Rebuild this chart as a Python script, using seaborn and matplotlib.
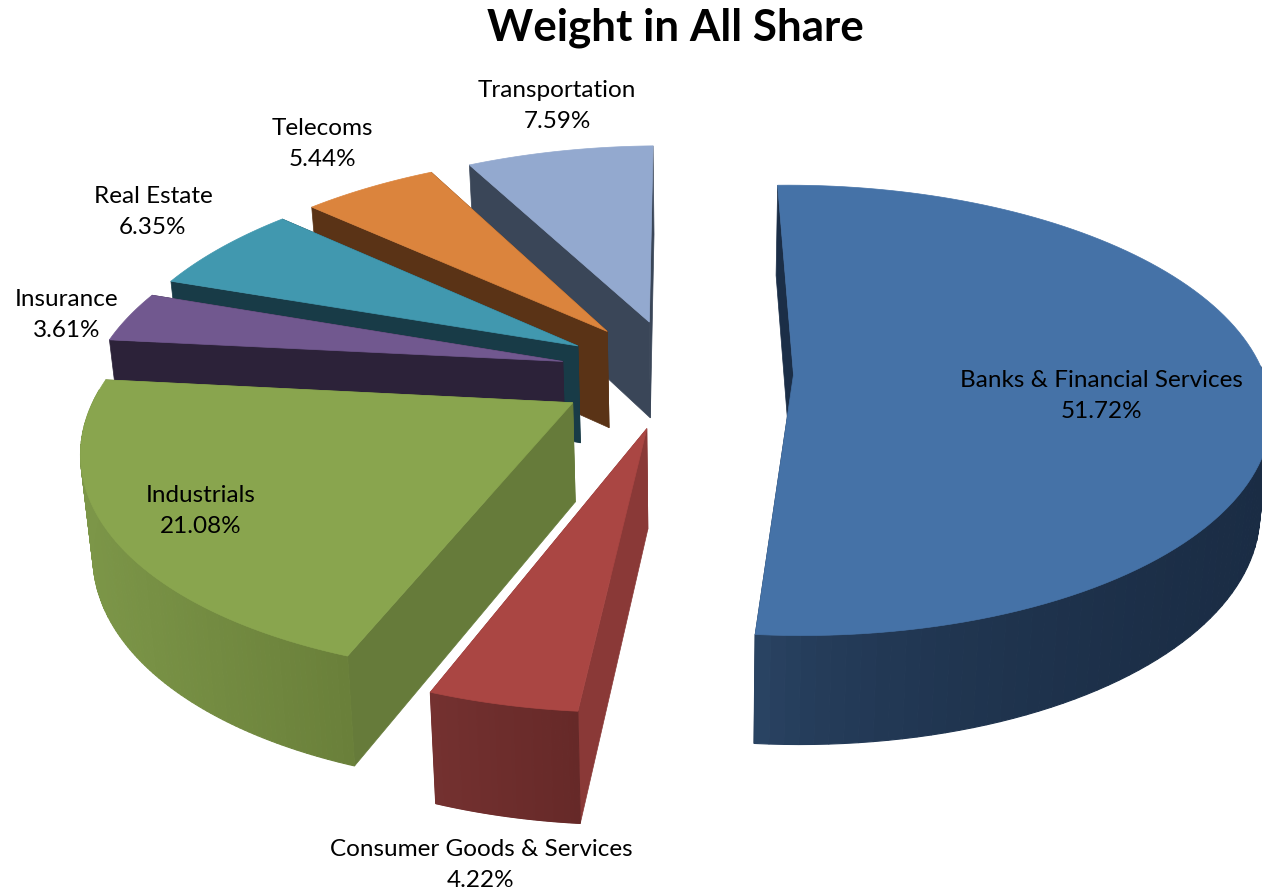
import numpy as np
import matplotlib
matplotlib.use('Agg')
import matplotlib.pyplot as plt
import seaborn as sns

categories = ['Banks & Financial Services', 'Consumer Goods & Services', 'Industrials',
              'Insurance', 'Real Estate', 'Telecoms', 'Transportation']
weights = [51.72, 4.22, 21.08, 3.61, 6.35, 5.44, 7.59]

top_colors = ['#4572A7', '#AA4643', '#89A54E', '#71588F', '#4198AF', '#DB843D', '#93A9CF']
cut_colors = ['#1B2E47', '#8A3937', '#667B3A', '#2C2239', '#183B47', '#5A3316', '#3A4658']
outer_dark = ['#1A2C44', '#662928', '#6A803A', '#2C2239', '#183B47', '#5A3316', '#3A4658']
outer_light = ['#2E4A6C', '#743130', '#7C9648', '#2C2239', '#183B47', '#5A3316', '#3A4658']
# where the label of each slice sits, in pixels
label_pos = [(1101, 396), (481, 865), (201, 511), (67, 315), (153, 212), (322, 144), (557, 106)]

sns.set_theme(style='white')
plt.rcParams['font.family'] = ['Lato', 'DejaVu Sans']

start_angle = 91.4
explosion = 0.25
cx, cy = 676, 373
scale_x, scale_y = 470, 219
skew = 0.025
persp = 0.1585
lean = 0.02


def project(X, Y, lift=0.0):
    X, Y = np.asarray(X), np.asarray(Y)
    s = 1 / (1 + persp * Y)
    x = cx + scale_x * (X + skew * Y) * s
    y = cy - scale_y * Y * s
    h = lift * (40 + 58 * s)
    return x + (700 - x) * lean * lift, y + h


fig, ax = plt.subplots(figsize=(12.62, 8.93), dpi=100)
fig.subplots_adjust(0, 0, 1, 1)
ax.set_xlim(0, 1262)
ax.set_ylim(893, 0)
ax.axis('off')

sweep = np.array(weights) / sum(weights) * 360
ends = start_angle - np.cumsum(sweep)
starts = ends + sweep

# back slices first, the big blue one last
for i in [6, 5, 4, 3, 2, 1, 0]:
    t = np.radians(np.linspace(starts[i], ends[i], 120))
    mid = np.radians((starts[i] + ends[i]) / 2)
    ox, oy = explosion * np.cos(mid), explosion * np.sin(mid)
    arc_x, arc_y = np.cos(t) + ox, np.sin(t) + oy

    # cut faces
    for a in [0, -1]:
        xs = np.array([ox, arc_x[a], arc_x[a], ox])
        ys = np.array([oy, arc_y[a], arc_y[a], oy])
        px, py = project(xs, ys, np.array([0, 0, 1, 1]))
        ax.fill(px, py, color=cut_colors[i], lw=0.5, zorder=i * -3 + 20)

    # outer wall, only the part facing the viewer, darker to the right
    top_x, top_y = project(arc_x, arc_y)
    bot_x, bot_y = project(arc_x, arc_y, 1)
    c0 = np.array(matplotlib.colors.to_rgb(outer_light[i]))
    c1 = np.array(matplotlib.colors.to_rgb(outer_dark[i]))
    front = np.sin(t) < 0.05
    if front.any():
        x0, x1 = top_x[front].min(), top_x[front].max()
        for j in range(len(t) - 1):
            if not front[j]:
                continue
            g = (top_x[j] - x0) / max(x1 - x0, 1)
            if i == 0:
                g = g ** 0.4
            col = c0 + (c1 - c0) * g
            ax.fill([top_x[j], top_x[j + 1], bot_x[j + 1], bot_x[j]],
                    [top_y[j], top_y[j + 1], bot_y[j + 1], bot_y[j]],
                    color=col, lw=0.8, zorder=i * -3 + 20)

    # top face
    ox_p, oy_p = project(ox, oy)
    ax.fill(np.r_[ox_p, top_x], np.r_[oy_p, top_y], color=top_colors[i], lw=0.5, zorder=i * -3 + 21)

    ax.text(label_pos[i][0], label_pos[i][1], '%s\n%.2f%%' % (categories[i], weights[i]),
            ha='center', va='center', fontsize=17.5, color='black', linespacing=1.55, zorder=40)

ax.text(675, 28, 'Weight in All Share', ha='center', va='center', fontsize=31.7,
        fontweight='bold', color='black')

fig.savefig('out.png', dpi=100)
